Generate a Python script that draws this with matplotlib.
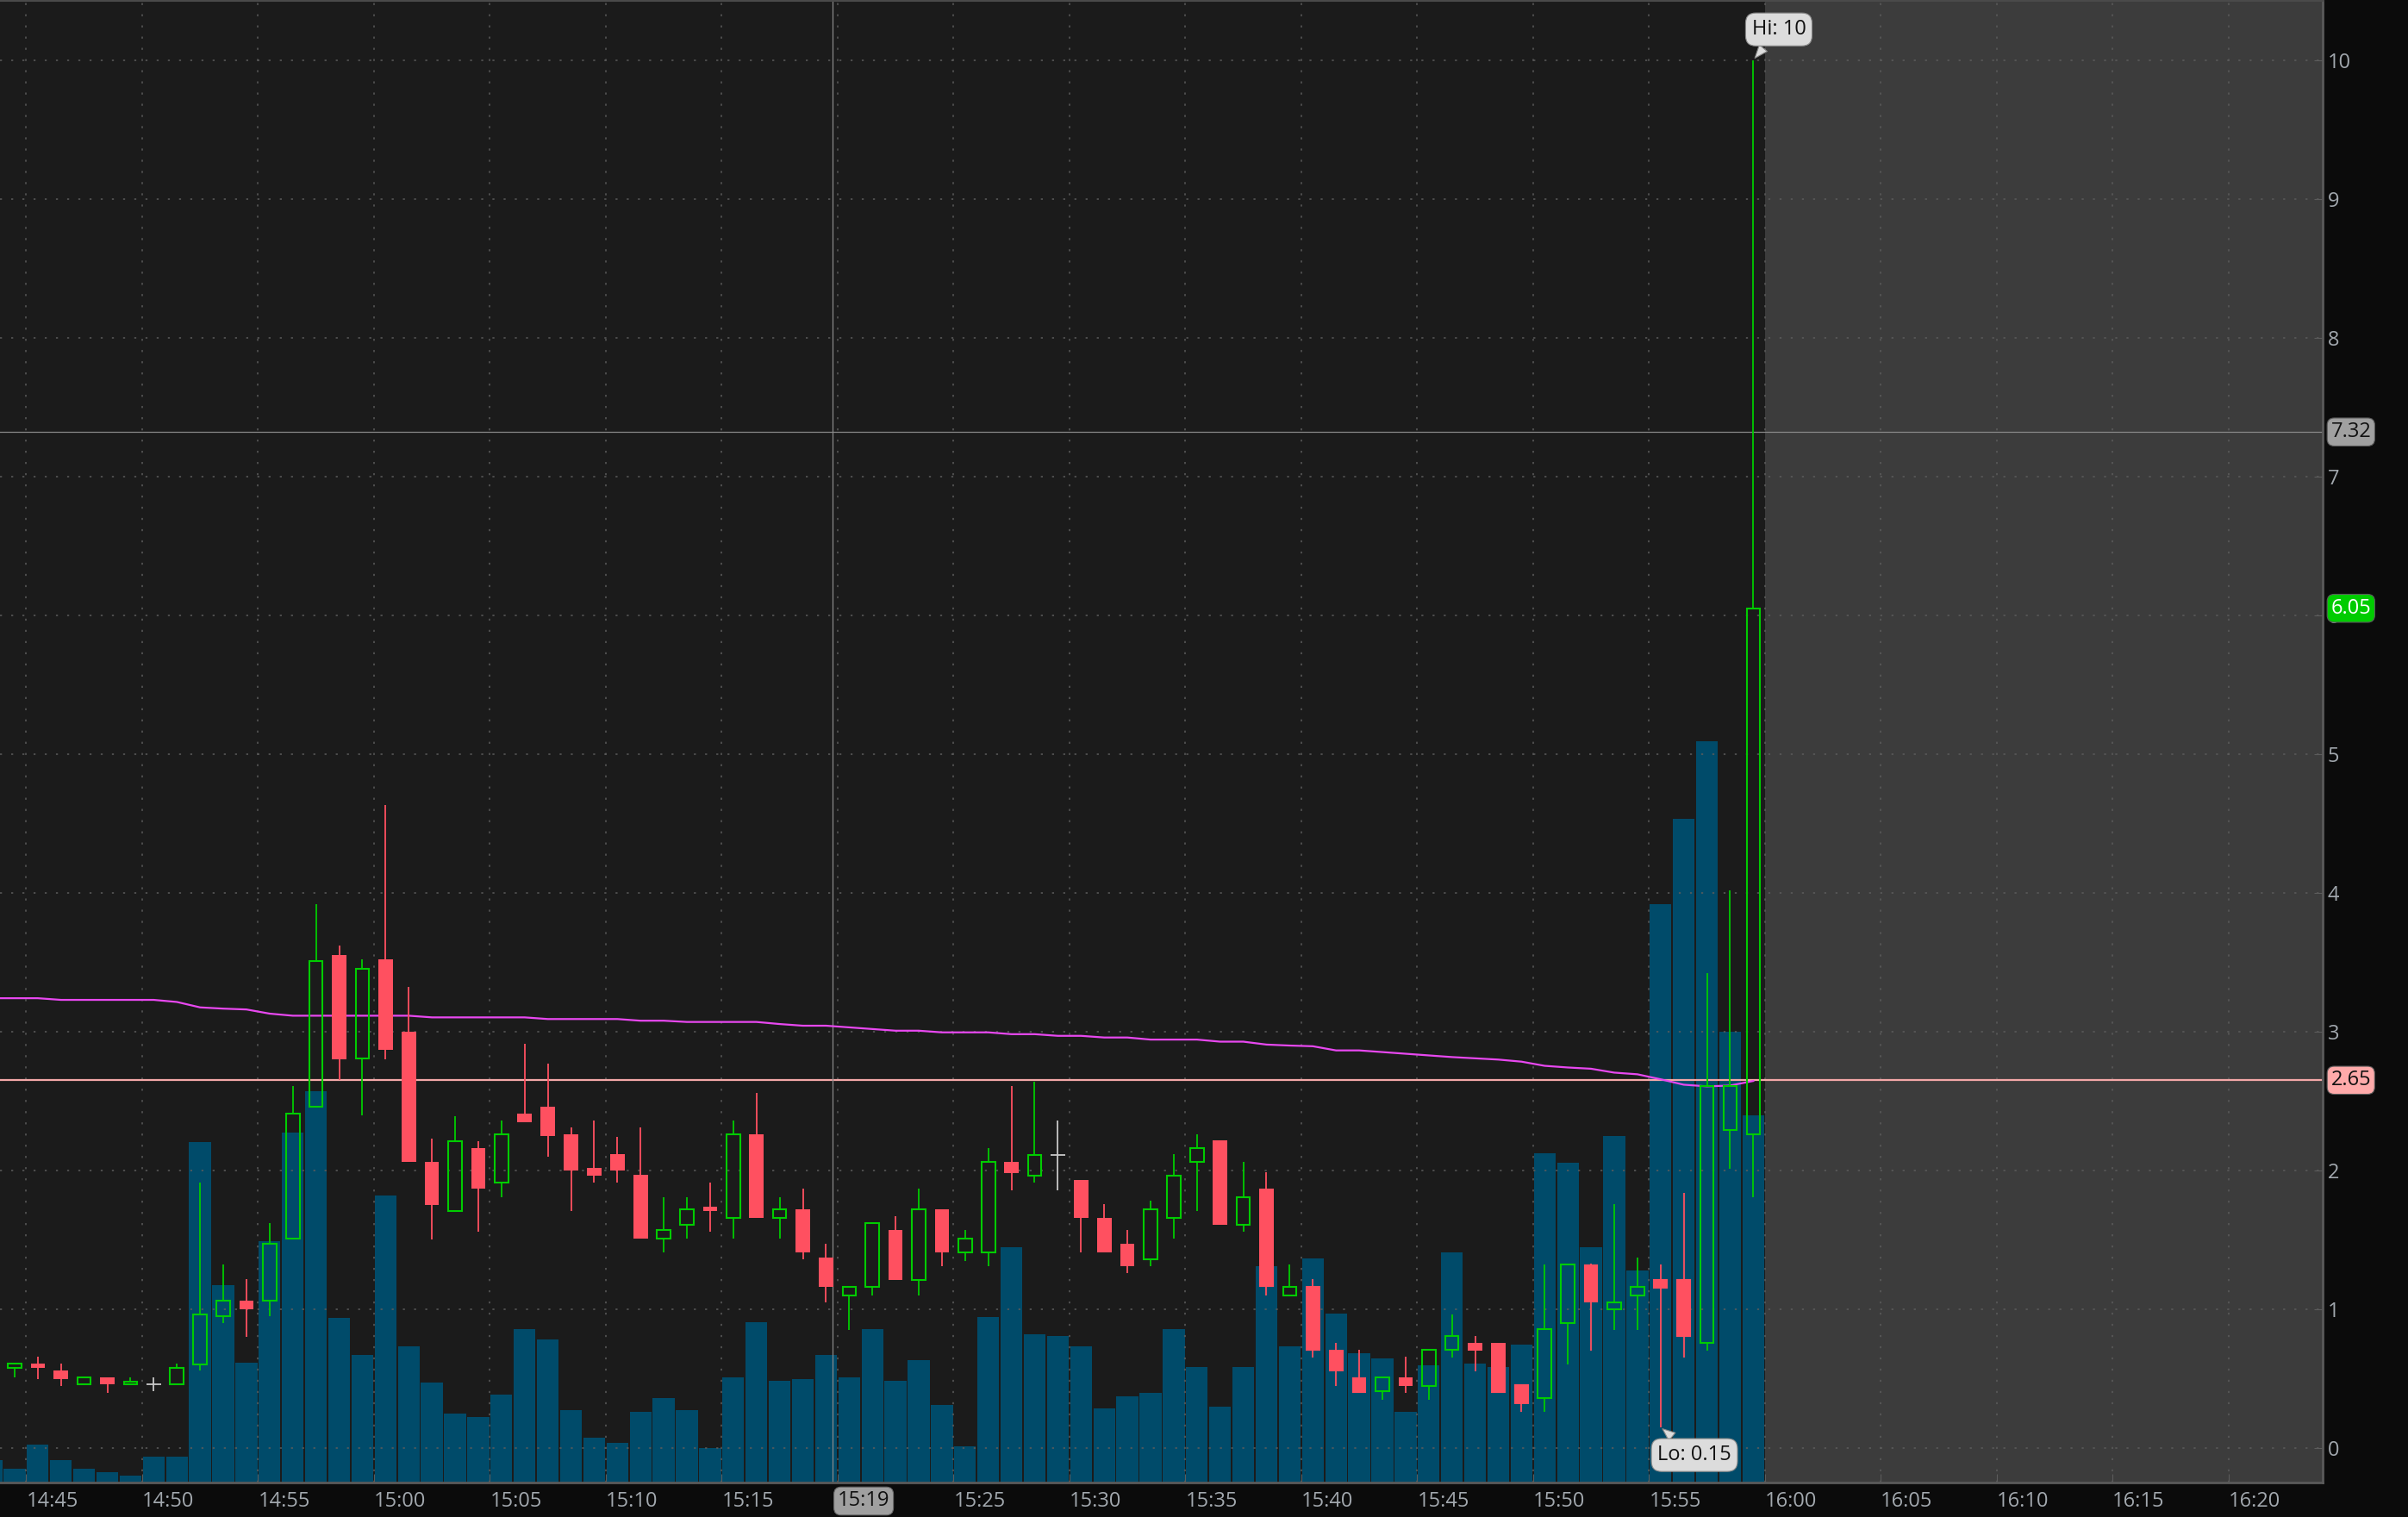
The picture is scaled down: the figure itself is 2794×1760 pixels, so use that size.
import numpy as np
import matplotlib.pyplot as plt
from matplotlib.transforms import blended_transform_factory

plt.rcParams['font.family'] = ['Open Sans', 'DejaVu Sans']

# minutes after midnight, one candle per minute 14:44 .. 15:59
candle_times = np.arange(14 * 60 + 44, 16 * 60)
opens = [0.58, 0.61, 0.56, 0.46, 0.51, 0.46, 0.46, 0.46, 0.60, 0.95,
         1.06, 1.06, 1.51, 2.46, 3.55, 2.81, 3.52, 3.00, 2.06, 1.71,
         2.16, 1.91, 2.41, 2.46, 2.26, 2.02, 2.12, 1.97, 1.51, 1.61,
         1.74, 1.66, 2.26, 1.66, 1.72, 1.37, 1.10, 1.16, 1.57, 1.21,
         1.72, 1.41, 1.41, 2.06, 1.96, 2.11, 1.93, 1.66, 1.47, 1.36,
         1.66, 2.06, 2.22, 1.61, 1.87, 1.10, 1.17, 0.71, 0.51, 0.41,
         0.51, 0.45, 0.71, 0.76, 0.76, 0.46, 0.36, 0.90, 1.32, 1.00,
         1.10, 1.22, 1.22, 0.76, 2.29, 2.26]
highs = [0.61, 0.66, 0.61, 0.51, 0.51, 0.51, 0.51, 0.61, 1.91, 1.32,
         1.22, 1.62, 2.61, 3.92, 3.62, 3.52, 4.63, 3.32, 2.23, 2.39,
         2.21, 2.36, 2.91, 2.77, 2.31, 2.36, 2.24, 2.31, 1.81, 1.81,
         1.91, 2.36, 2.56, 1.81, 1.87, 1.47, 1.16, 1.62, 1.67, 1.87,
         1.72, 1.57, 2.16, 2.61, 2.64, 2.36, 1.93, 1.76, 1.57, 1.78,
         2.12, 2.26, 2.22, 2.06, 1.99, 1.32, 1.22, 0.76, 0.71, 0.51,
         0.66, 0.71, 0.96, 0.81, 0.76, 0.46, 1.32, 1.32, 1.33, 1.76,
         1.37, 1.32, 1.84, 3.42, 4.02, 10.0]
lows = [0.51, 0.50, 0.45, 0.46, 0.40, 0.46, 0.41, 0.46, 0.56, 0.90,
        0.80, 0.95, 1.51, 2.46, 2.65, 2.40, 2.80, 2.06, 1.50, 1.71,
        1.56, 1.81, 2.35, 2.10, 1.71, 1.91, 1.91, 1.51, 1.41, 1.51,
        1.56, 1.51, 1.66, 1.51, 1.36, 1.05, 0.85, 1.10, 1.21, 1.10,
        1.31, 1.35, 1.31, 1.86, 1.91, 1.86, 1.41, 1.41, 1.26, 1.31,
        1.51, 1.71, 1.61, 1.56, 1.10, 1.10, 0.65, 0.45, 0.40, 0.35,
        0.40, 0.35, 0.65, 0.55, 0.40, 0.26, 0.26, 0.60, 0.70, 0.85,
        0.85, 0.15, 0.65, 0.70, 2.01, 1.81]
closes = [0.61, 0.58, 0.50, 0.51, 0.46, 0.48, 0.46, 0.58, 0.96, 1.06,
          1.00, 1.47, 2.41, 3.51, 2.80, 3.45, 2.87, 2.06, 1.75, 2.21,
          1.87, 2.26, 2.35, 2.25, 2.00, 1.96, 2.00, 1.51, 1.57, 1.72,
          1.71, 2.26, 1.66, 1.72, 1.41, 1.16, 1.16, 1.62, 1.21, 1.72,
          1.41, 1.51, 2.06, 1.98, 2.11, 2.11, 1.66, 1.41, 1.31, 1.72,
          1.96, 2.16, 1.61, 1.81, 1.16, 1.16, 0.70, 0.55, 0.40, 0.51,
          0.45, 0.71, 0.81, 0.70, 0.40, 0.32, 0.86, 1.32, 1.05, 1.05,
          1.16, 1.15, 0.80, 2.61, 2.61, 6.05]

# volume (thousands) and vwap, 14:43 .. 15:59
vol_times = np.arange(14 * 60 + 43, 16 * 60)
volume = [1.50, 0.94, 2.55, 1.51, 0.94, 0.69, 0.46, 1.73, 1.73, 23.0,
          13.3, 8.10, 16.3, 23.6, 26.4, 11.1, 8.60, 19.4, 9.20, 6.74,
          4.66, 4.41, 5.93, 10.35, 9.65, 4.88, 3.02, 2.66, 4.77, 5.70,
          4.88, 2.32, 7.08, 10.8, 6.86, 6.97, 8.60, 7.08, 10.35, 6.86,
          8.24, 5.22, 2.44, 11.17, 15.9, 9.99, 9.87, 9.20, 5.00, 5.81,
          6.04, 10.35, 7.79, 5.11, 7.79, 14.6, 9.20, 15.1, 11.4, 8.72,
          8.38, 4.77, 7.90, 15.56, 8.01, 7.79, 9.31, 22.2, 21.6, 15.9,
          23.4, 14.3, 39.05, 44.8, 50.0, 30.4, 24.8]
vwap = [3.241, 3.241, 3.241, 3.229, 3.229, 3.229, 3.229, 3.229, 3.214, 3.175,
        3.166, 3.160, 3.130, 3.115, 3.115, 3.115, 3.115, 3.115, 3.115, 3.103,
        3.103, 3.103, 3.103, 3.103, 3.091, 3.091, 3.091, 3.091, 3.079, 3.079,
        3.070, 3.070, 3.070, 3.070, 3.055, 3.043, 3.043, 3.031, 3.019, 3.007,
        3.007, 2.995, 2.995, 2.995, 2.982, 2.982, 2.970, 2.970, 2.958, 2.958,
        2.943, 2.943, 2.943, 2.928, 2.928, 2.907, 2.900, 2.895, 2.865, 2.865,
        2.853, 2.841, 2.829, 2.817, 2.808, 2.799, 2.784, 2.754, 2.742, 2.733,
        2.705, 2.693, 2.657, 2.618, 2.606, 2.612, 2.645]

x_ticks = list(range(14 * 60 + 45, 16 * 60 + 21, 5))
x_labels = ['14:45', '14:50', '14:55', '15:00', '15:05', '15:10', '15:15', '',
            '15:25', '15:30', '15:35', '15:40', '15:45', '15:50', '15:55',
            '16:00', '16:05', '16:10', '16:15', '16:20']
y_ticks = list(range(0, 11))

high_price = 10.0
low_price = 0.15
last_price = 6.05
line_price = 2.65
cross_price = 7.32
cross_time = 15 * 60 + 19.8
session_end = 16 * 60

BG = '#1b1b1b'
SHADE = '#3c3c3c'
AXBG = '#0b0b0b'
GREEN = '#00cc00'
RED = '#ff5060'
VOLC = '#004b6a'
TXT = '#a2a8ae'

W, H = 2794, 1760
fig = plt.figure(figsize=(W / 100, H / 100), dpi=100, facecolor=AXBG)
pos = [0, 40 / H, 2695 / W, 1719 / H]

# volume pane underneath, price pane drawn on top of it
ax_vol = fig.add_axes(pos)
ax_vol.set_facecolor(BG)
ax_vol.axvspan(session_end, 1000, color=SHADE, lw=0)
ax_vol.bar(vol_times + 0.5, volume, width=0.94, color=VOLC, lw=0)
ax_vol.set_ylim(0, 100)
ax_vol.set_yticks([])
for s in ax_vol.spines.values():
    s.set_visible(False)

ax = fig.add_axes(pos, sharex=ax_vol)
ax.patch.set_visible(False)
ax.set_xlim(883.87, 984.06)
ax.set_ylim(-0.248, 10.426)
ax_vol.tick_params(axis='x', length=0, labelbottom=False)

dots = (0, (1.5, 7))
for y in y_ticks:
    ax.axhline(y, color='#5c5c5c', lw=1.1, ls=dots, zorder=1)
for x in x_ticks:
    ax.axvline(x, color='#5c5c5c', lw=1.1, ls=dots, zorder=1)

ax.axhline(line_price, color='#f4a8a8', lw=1.6, zorder=2)
ax.axhline(cross_price, color='#8a8a8a', lw=0.9, zorder=2)
ax.axvline(cross_time, color='#8a8a8a', lw=0.9, zorder=2)

ax.plot(vol_times + 0.5, vwap, color='#e848f0', lw=1.6, zorder=3)

bw = 0.62
for t, o, h, l, c in zip(candle_times, opens, highs, lows, closes):
    x = t + 0.5
    top, bot = max(o, c), min(o, c)
    if c > o:
        ax.bar(x, top - bot, bottom=bot, width=bw - 0.04, facecolor='none',
               edgecolor=GREEN, lw=1.5, zorder=4)
        ax.vlines(x, top, h, color=GREEN, lw=1.3, zorder=4)
        ax.vlines(x, l, bot, color=GREEN, lw=1.3, zorder=4)
    elif c < o:
        ax.vlines(x, l, h, color=RED, lw=1.3, zorder=4)
        ax.bar(x, top - bot, bottom=bot, width=bw, color=RED, lw=0, zorder=4)
    else:
        ax.vlines(x, l, h, color='#c8c8c8', lw=1.3, zorder=4)
        ax.hlines(o, x - bw / 2, x + bw / 2, color='#c8c8c8', lw=1.3, zorder=4)

# axes styling
ax.spines['left'].set_visible(False)
ax.spines['top'].set_color('#4a4a4a')
ax.spines['right'].set_color('#5a5a5a')
ax.spines['bottom'].set_color('#5a5a5a')
ax.spines['right'].set_linewidth(2)
ax.spines['bottom'].set_linewidth(2)
ax.spines['top'].set_linewidth(1.5)

ax.set_xticks(x_ticks)
ax.set_xticklabels(x_labels, ha='left')
ax.tick_params(axis='x', direction='in', length=7, width=0.8, color='#5c5c5c',
               labelsize=17, labelcolor=TXT, pad=7)
ax.yaxis.tick_right()
ax.set_yticks(y_ticks)
ax.set_yticklabels([str(v) for v in y_ticks], ha='left')
ax.tick_params(axis='y', direction='in', length=7, width=0.8, color='#5c5c5c',
               labelsize=17, labelcolor=TXT, pad=4)

# price bubbles on the right axis
tr = blended_transform_factory(ax.transAxes, ax.transData)
for val, fc, tc in [(cross_price, '#a0a0a0', '#111111'),
                    (last_price, '#00cc00', '#ffffff'),
                    (line_price, '#ffaaaa', '#111111')]:
    ax.text(1.0035, val, '%.2f' % val, transform=tr, ha='left', va='center',
            fontsize=17, color=tc, zorder=10, clip_on=False,
            bbox=dict(boxstyle='round,pad=0.18,rounding_size=0.35', fc=fc,
                      ec='#5a5a5a', lw=0.8))

# crosshair time bubble
trx = blended_transform_factory(ax.transData, ax.transAxes)
ax.text(cross_time + 0.2, -0.0125, '15:19', transform=trx, ha='left', va='center',
        fontsize=17, color='#111111', clip_on=False, zorder=10,
        bbox=dict(boxstyle='round,pad=0.18,rounding_size=0.35', fc='#a0a0a0',
                  ec='#6a6a6a', lw=0.8))

# hi / lo callouts
call_box = dict(boxstyle='round,pad=0.3,rounding_size=0.5', fc='#dcdcdc',
                ec='#8a8a8a', lw=0.8)
ax.annotate('Hi: %g' % high_price, xy=(candle_times[-1] + 0.5, high_price),
            xytext=(960.6, 10.22), ha='center', va='center', fontsize=17,
            color='#111111', bbox=call_box, zorder=11,
            arrowprops=dict(arrowstyle='wedge,tail_width=0.5', fc='#dcdcdc',
                            ec='#8a8a8a', lw=0.8))
ax.annotate('Lo: %.2f' % low_price, xy=(candle_times[71] + 0.5, low_price),
            xytext=(956.96, -0.05), ha='center', va='center', fontsize=17,
            color='#111111', bbox=call_box, zorder=11,
            arrowprops=dict(arrowstyle='wedge,tail_width=0.5', fc='#dcdcdc',
                            ec='#8a8a8a', lw=0.8))

fig.savefig('out.png', dpi=100, facecolor=AXBG)
